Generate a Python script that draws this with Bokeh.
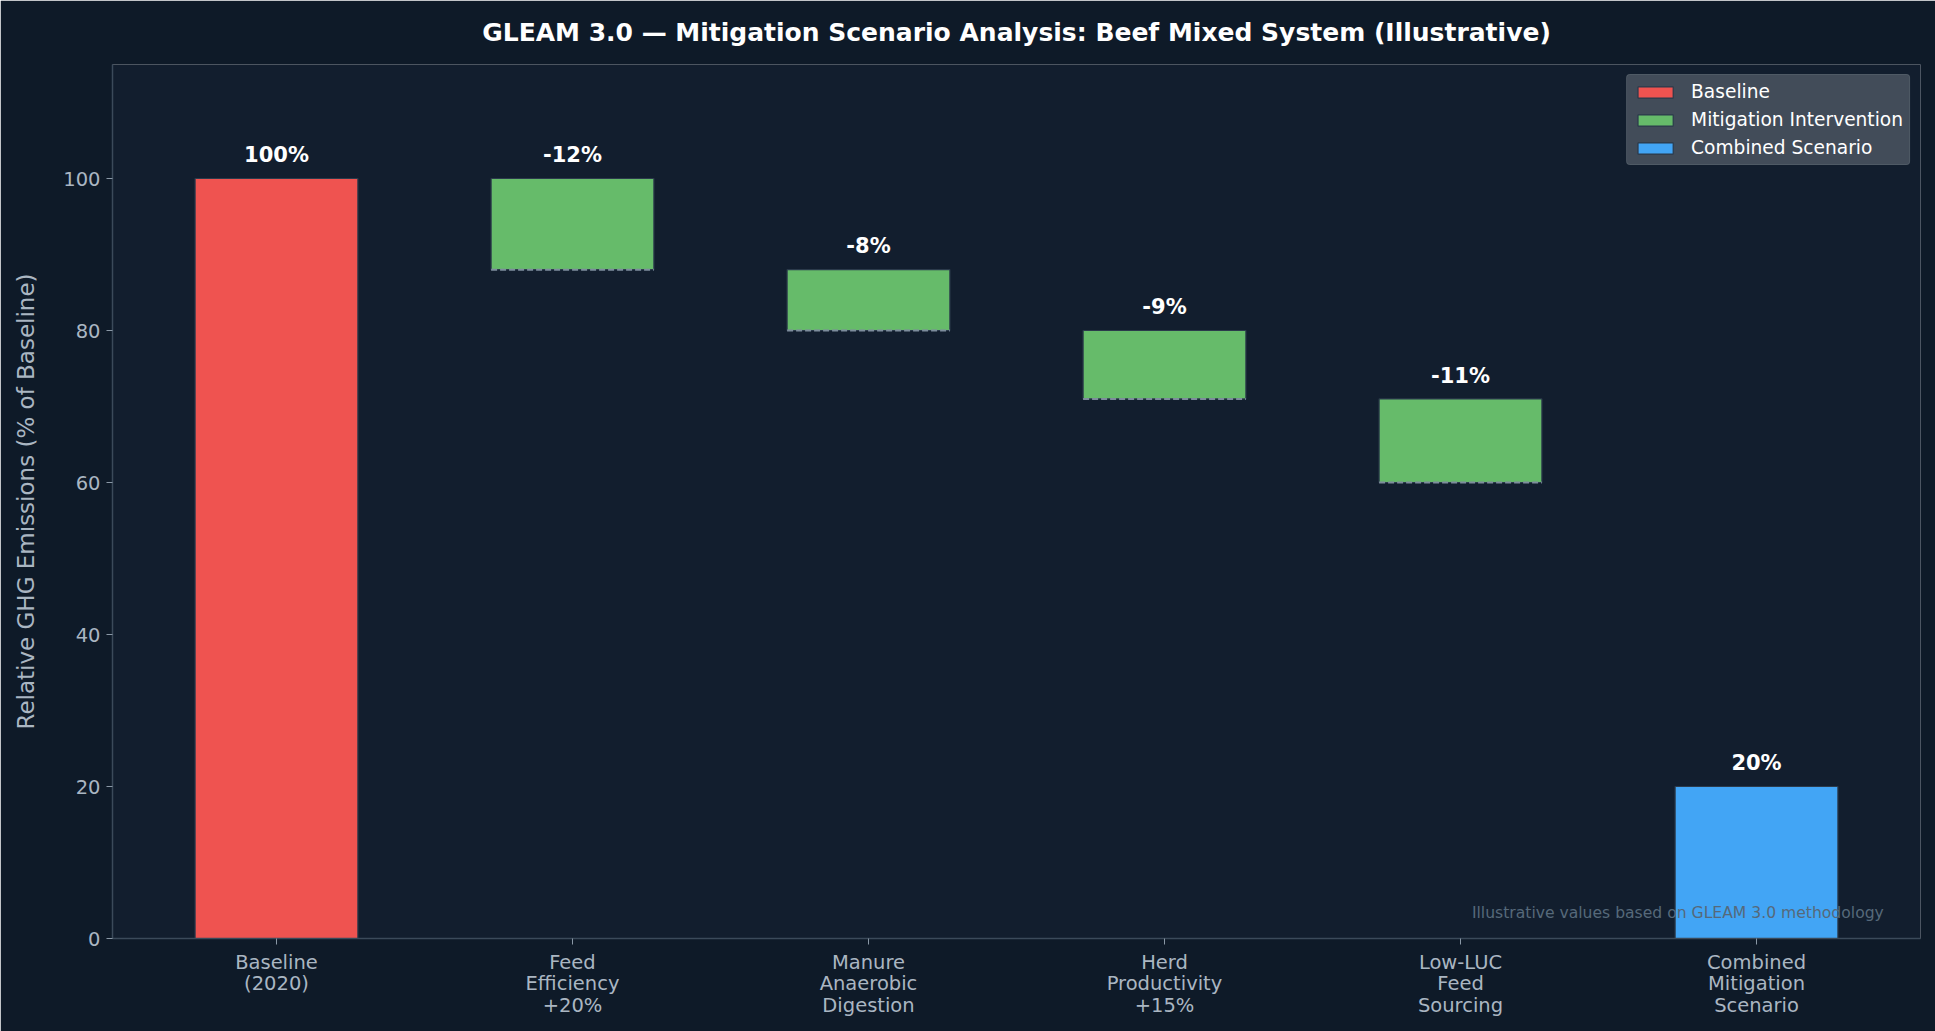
from bokeh.plotting import figure
from bokeh.models import FixedTicker, Range1d, Legend, LegendItem, Label, ColumnDataSource
from bokeh.core.properties import value
from bokeh.embed import file_html
from bokeh.resources import INLINE

# ---- data ----
title_text = "GLEAM 3.0 \u2014 Mitigation Scenario Analysis: Beef Mixed System (Illustrative)"
categories = ["Baseline\n(2020)", "Feed\nEfficiency\n+20%", "Manure\nAnaerobic\nDigestion",
              "Herd\nProductivity\n+15%", "Low-LUC\nFeed\nSourcing", "Combined\nMitigation\nScenario"]
bar_bottom = [0, 88, 80, 71, 60, 0]
bar_top = [100, 100, 88, 80, 71, 20]
bar_labels = ["100%", "-12%", "-8%", "-9%", "-11%", "20%"]
bar_kind = ["Baseline", "Mitigation Intervention", "Mitigation Intervention",
            "Mitigation Intervention", "Mitigation Intervention", "Combined Scenario"]
y_ticks = [0, 20, 40, 60, 80, 100]

kind_colors = {"Baseline": "#ef5350", "Mitigation Intervention": "#66bb6a",
               "Combined Scenario": "#42a5f5"}
BAR_W = 0.55
FONT = "DejaVu Sans"

xs = list(range(len(categories)))

p = figure(width=1935, height=1031, output_backend="svg", toolbar_location=None,
           x_range=Range1d(-0.554, len(categories) - 1 + 0.554), y_range=Range1d(0, 115),
           min_border_left=112, min_border_right=15, min_border_top=64, min_border_bottom=93)

p.background_fill_color = "#121e2e"
p.border_fill_color = "#0e1a28"
p.outline_line_color = None
p.grid.visible = False

# title
p.title.text = title_text
p.title.text_font = FONT
p.title.text_font_size = "25px"
p.title.text_font_style = "bold"
p.title.text_color = "#ffffff"
p.title.align = "center"
p.title.vertical_align = "top"
p.title.standoff = 31

# bars
items = []
for kind in ["Baseline", "Mitigation Intervention", "Combined Scenario"]:
    idx = [i for i, k in enumerate(bar_kind) if k == kind]
    src = ColumnDataSource(dict(x=[xs[i] for i in idx], top=[bar_top[i] for i in idx],
                                bottom=[bar_bottom[i] for i in idx]))
    r = p.vbar(x="x", top="top", bottom="bottom", width=BAR_W, source=src,
               fill_color=kind_colors[kind], line_color="#2b3a4b", line_width=1.2)
    items.append(LegendItem(label=kind, renderers=[r]))

# dashed lines at bottom of mitigation bars
mi = [i for i, k in enumerate(bar_kind) if k == "Mitigation Intervention"]
p.segment(x0=[xs[i] - BAR_W / 2 for i in mi], x1=[xs[i] + BAR_W / 2 for i in mi],
          y0=[bar_bottom[i] for i in mi], y1=[bar_bottom[i] for i in mi],
          line_color="#7d8c9c", line_width=2, line_dash="6 3")

# value labels
p.text(x=xs, y=[t + 1.5 for t in bar_top], text=bar_labels,
       text_font=value(FONT), text_font_size="21px", text_font_style="bold",
       text_color="#ffffff", text_align="center", text_baseline="bottom")

# axes
p.xaxis.ticker = FixedTicker(ticks=xs)
p.xaxis.major_label_overrides = {i: c for i, c in enumerate(categories)}
p.yaxis.ticker = FixedTicker(ticks=y_ticks)
for ax in (p.xaxis[0], p.yaxis[0]):
    ax.axis_line_color = "#3b4a5a"
    ax.axis_line_width = 1.5
    ax.major_tick_line_color = "#8a98a6"
    ax.major_tick_out = 6
    ax.major_tick_in = 0
    ax.minor_tick_line_color = None
    ax.major_label_text_font = FONT
    ax.major_label_text_font_size = "19.5px"
    ax.major_label_text_color = "#aab6c2"
    ax.major_label_standoff = 6
p.xaxis.major_label_text_line_height = 0.95
p.yaxis.axis_label = "Relative GHG Emissions (% of Baseline)"
p.yaxis.axis_label_text_font = FONT
p.yaxis.axis_label_text_font_size = "23px"
p.yaxis.axis_label_text_font_style = "normal"
p.yaxis.axis_label_text_color = "#aab6c2"
p.yaxis.axis_label_standoff = 21

# legend
legend = Legend(items=items, location="top_right")
legend.background_fill_color = "#424c59"
legend.background_fill_alpha = 1.0
legend.border_line_color = "#5c6772"
legend.border_line_width = 1.2
legend.border_radius = 4
legend.label_text_color = "#ffffff"
legend.label_text_font = FONT
legend.label_text_font_size = "18.6px"
legend.glyph_width = 44
legend.glyph_height = 14
legend.label_height = 20
legend.spacing = 7
legend.padding = 6
legend.margin = 10
legend.label_standoff = 14
p.add_layout(legend)

# annotation
note = Label(x=len(categories) - 1 + 0.43, y=3.4,
             text="Illustrative values based on GLEAM 3.0 methodology",
             text_font=FONT, text_font_size="15.6px", text_color="#56697a",
             text_align="right", text_baseline="middle")
p.add_layout(note)

open("out.html", "w").write(file_html(p, INLINE))
